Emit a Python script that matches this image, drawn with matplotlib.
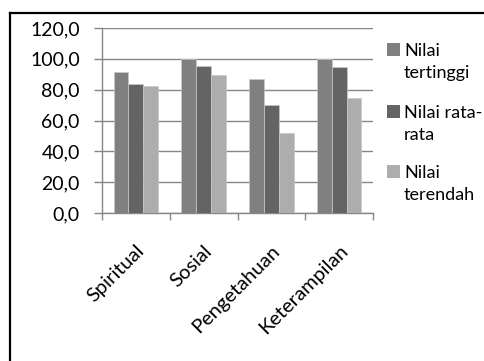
import matplotlib
matplotlib.use("Agg")
import matplotlib.pyplot as plt
from matplotlib.patches import Rectangle
from matplotlib.lines import Line2D
import numpy as np

plt.rcParams['font.family'] = ['Lato', 'DejaVu Sans']

categories = ["Spiritual", "Sosial", "Pengetahuan", "Keterampilan"]
series_names = ["Nilai\ntertinggi", "Nilai rata-\nrata", "Nilai\nterendah"]
tertinggi = [91.3, 100.0, 87.0, 100.0]
rata_rata = [83.8, 95.6, 70.1, 95.0]
terendah = [82.7, 89.6, 52.1, 74.9]
series = [tertinggi, rata_rata, terendah]
colors = ["#808080", "#646464", "#adadad"]
yticks = [0, 20, 40, 60, 80, 100, 120]
ytick_labels = ["0,0", "20,0", "40,0", "60,0", "80,0", "100,0", "120,0"]

W, H = 485, 361
fig = plt.figure(figsize=(W / 100, H / 100), dpi=100)
ax = fig.add_axes([102 / W, 1 - 213 / H, (373 - 102) / W, (213 - 28) / H])

x = np.arange(len(categories))
bw = 0.22
for i, (vals, c) in enumerate(zip(series, colors)):
    ax.bar(x + (i - 1) * bw, vals, width=bw, color=c, edgecolor="#c8c8c8",
           linewidth=0.5, zorder=3)

ax.set_xlim(-0.5, len(categories) - 0.5)
ax.set_ylim(0, 120)
ax.set_yticks(yticks)
ax.set_yticklabels(ytick_labels, fontsize=14)
ax.yaxis.grid(True, color="#868686", linewidth=1.0, zorder=0)
ax.set_xticks(np.arange(-0.5, len(categories), 1.0), minor=False)
ax.set_xticklabels([])
ax.set_xticks(x, minor=True)
ax.set_xticklabels(categories, minor=True, rotation=45, ha="right",
                   rotation_mode="anchor", fontsize=14.5)
ax.tick_params(axis="x", which="minor", length=0, pad=21)
ax.tick_params(axis="x", which="major", length=5, color="#868686", width=1.0)
ax.tick_params(axis="y", length=6, color="#868686", width=1.0, pad=10)
for s in ["top", "right"]:
    ax.spines[s].set_visible(False)
for s in ["left", "bottom"]:
    ax.spines[s].set_color("#868686")
    ax.spines[s].set_linewidth(1.0)

# Legend (manual layout, text taken from series names)
sq = 13
entry_cap_top = [43, 105, 165]
line_gap = 22
for name, c, yt in zip(series_names, colors, entry_cap_top):
    fig.add_artist(Rectangle((387 / W, 1 - (yt + sq) / H), sq / W, sq / H,
                             transform=fig.transFigure, facecolor=c,
                             edgecolor="none"))
    for k, line in enumerate(name.split("\n")):
        base = yt + 13 + k * line_gap
        fig.text(404 / W, 1 - base / H, line, fontsize=13, va="baseline",
                 ha="left")

# outer frame
fig.add_artist(Line2D([10 / W, 1.0], [1 - 13 / H, 1 - 13 / H],
                      transform=fig.transFigure, color="black", linewidth=1.6))
fig.add_artist(Line2D([10 / W, 10 / W], [0, 1 - 13 / H],
                      transform=fig.transFigure, color="black", linewidth=1.6))

fig.savefig("out.png", dpi=100)
